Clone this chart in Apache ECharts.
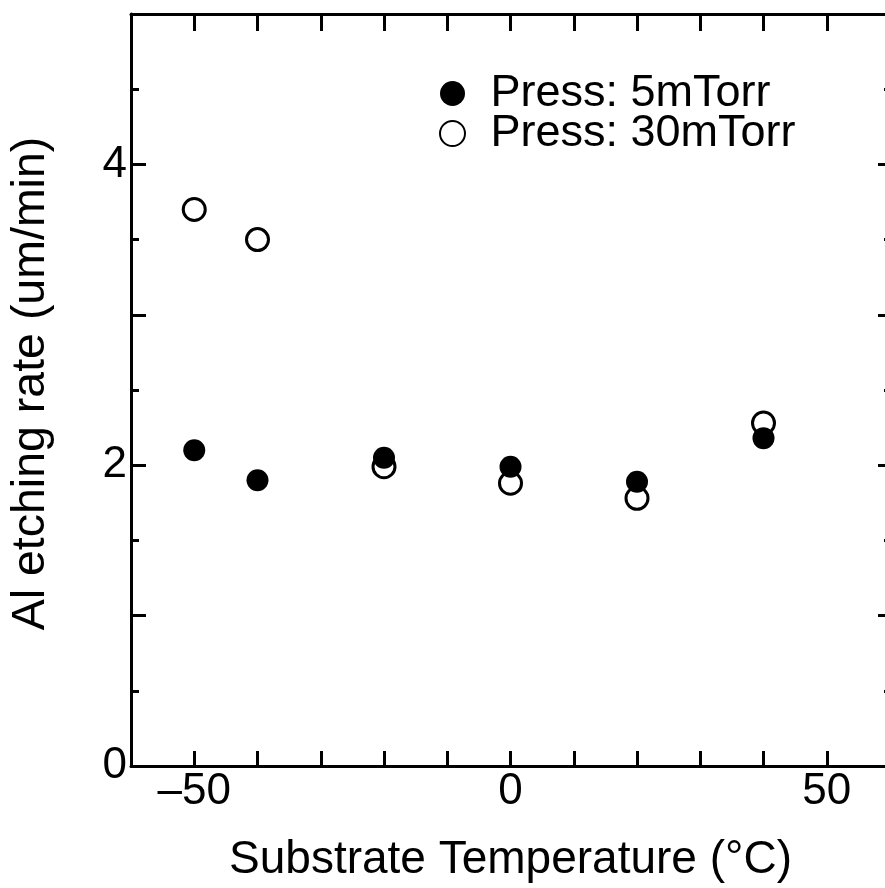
<!DOCTYPE html>
<html><head><meta charset="utf-8">
<script src="https://cdn.jsdelivr.net/npm/echarts@6/dist/echarts.min.js"></script>
<style>html,body{margin:0;padding:0;background:#fff}#c{width:885px;height:888px}</style>
</head><body><div id="c"></div>
<script>
const temperatures = [-50, -40, -20, 0, 20, 40];
const rate5mTorr = [2.10, 1.90, 2.05, 1.99, 1.89, 2.18];
const rate30mTorr = [3.70, 3.50, 1.99, 1.88, 1.78, 2.28];
const seriesNames = ['Press: 5mTorr', 'Press: 30mTorr'];
const xTickLabels = [-50, 0, 50];
const yTickLabels = [0, 2, 4];
const xTitle = 'Substrate Temperature (°C)';
const yTitle = 'Al etching rate (um/min)';

const FONT = '"Liberation Sans", Arial, Helvetica, sans-serif';
const BLACK = '#000';
const fmtNum = v => (v < 0 ? '\u2013' + Math.abs(v) : String(v));

const axisLine = { show: true, onZero: false, lineStyle: { color: BLACK, width: 3 } };
const tickStyle = { color: BLACK, width: 3 };

const chart = echarts.init(document.getElementById('c'), null, { renderer: 'canvas' });
chart.setOption({
  animation: false,
  backgroundColor: '#fff',
  textStyle: { fontFamily: FONT, color: BLACK },
  grid: { left: 131, top: 14, width: 759, height: 752, containLabel: false, outerBoundsMode: 'none' },
  legend: {
    data: seriesNames,
    orient: 'vertical',
    left: 434, top: 66,
    itemWidth: 66, itemHeight: 25, itemGap: -5,
    selectedMode: false,
    textStyle: { fontSize: 45, color: BLACK, fontFamily: FONT }
  },
  xAxis: [
    {
      type: 'value', position: 'bottom', min: -60, max: 60, interval: 10,
      axisLine: axisLine,
      axisTick: { show: true, inside: true, length: 15, lineStyle: tickStyle },
      axisLabel: {
        formatter: v => (xTickLabels.includes(v) ? fmtNum(v) : ''),
        fontSize: 44, color: BLACK, fontFamily: FONT, margin: 4
      },
      splitLine: { show: false },
      name: xTitle, nameLocation: 'middle', nameGap: 71,
      nameTextStyle: { fontSize: 46, color: BLACK, fontFamily: FONT }
    },
    {
      type: 'value', position: 'top', min: -60, max: 60, interval: 10,
      axisLine: axisLine,
      axisTick: { show: true, inside: true, length: 17, lineStyle: tickStyle },
      axisLabel: { show: false },
      splitLine: { show: false }
    }
  ],
  yAxis: [
    {
      type: 'value', position: 'left', min: 0, max: 5, interval: 1,
      axisLine: axisLine,
      axisTick: { show: true, inside: true, length: 15, lineStyle: tickStyle },
      minorTick: { show: true, splitNumber: 2, length: 8, lineStyle: tickStyle },
      axisLabel: {
        formatter: v => (yTickLabels.includes(v) ? fmtNum(v) : ''),
        fontSize: 44, color: BLACK, fontFamily: FONT, margin: 4
      },
      splitLine: { show: false },
      name: yTitle, nameLocation: 'middle', nameGap: 76,
      nameTextStyle: { fontSize: 46.5, color: BLACK, fontFamily: FONT, padding: [0, 0, 0, 13] }
    },
    {
      type: 'value', position: 'right', min: 0, max: 5, interval: 1,
      axisLine: axisLine,
      axisTick: { show: true, inside: true, length: 12, lineStyle: tickStyle },
      minorTick: { show: true, splitNumber: 2, length: 6, lineStyle: tickStyle },
      axisLabel: { show: false },
      splitLine: { show: false }
    }
  ],
  series: [
    {
      name: seriesNames[1], type: 'scatter', xAxisIndex: 0, yAxisIndex: 0,
      data: temperatures.map((t, i) => [t, rate30mTorr[i]]),
      symbol: 'circle', symbolSize: 22, z: 2,
      itemStyle: { color: '#fff', borderColor: BLACK, borderWidth: 3, opacity: 1 },
      emphasis: { disabled: true }
    },
    {
      name: seriesNames[0], type: 'scatter', xAxisIndex: 0, yAxisIndex: 0,
      data: temperatures.map((t, i) => [t, rate5mTorr[i]]),
      symbol: 'circle', symbolSize: 22, z: 3,
      itemStyle: { color: BLACK, borderColor: BLACK, borderWidth: 0, opacity: 1 },
      emphasis: { disabled: true }
    }
  ]
});
</script>
</body></html>
